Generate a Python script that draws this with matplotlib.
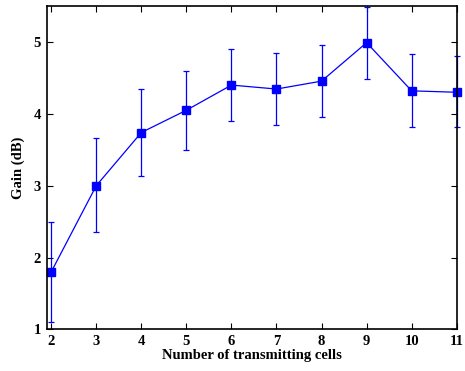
import matplotlib
matplotlib.use("Agg")
import matplotlib.pyplot as plt

cells = [2, 3, 4, 5, 6, 7, 8, 9, 10, 11]
gain = [1.80, 3.00, 3.74, 4.05, 4.40, 4.345, 4.455, 4.99, 4.32, 4.30]
err_low = [0.70, 0.65, 0.60, 0.55, 0.50, 0.50, 0.50, 0.51, 0.50, 0.49]
err_high = [0.70, 0.66, 0.60, 0.55, 0.50, 0.50, 0.50, 0.50, 0.51, 0.50]

plt.rcParams['font.family'] = ['Liberation Serif', 'DejaVu Serif']
plt.rcParams['font.weight'] = 'bold'

fig = plt.figure(figsize=(4.65, 3.71), dpi=100)
ax = fig.add_axes([0.1004, 0.1119, 0.8818, 0.8719])
cont = ax.errorbar(cells, gain, yerr=[err_low, err_high], color='#0000ff', ecolor='#0000ff',
                   marker='s', markersize=6, linewidth=0.9, elinewidth=0.9, capsize=2.5, capthick=0.9)
line, caps, bars = cont.lines
line.set_clip_on(False)
for c in caps:
    c.set_clip_on(False)
for b in bars:
    b.set_clip_on(False)
ax.set_xlim(1.9, 11.0)
ax.set_ylim(1, 5.5)
ax.set_xticks(cells)
ax.set_yticks([1, 2, 3, 4, 5])
ax.tick_params(direction='in', top=True, right=True, labelsize=10.5, length=4, width=0.8, pad=4)
for lab in ax.get_xticklabels() + ax.get_yticklabels():
    lab.set_fontweight('bold')
for s in ax.spines.values():
    s.set_linewidth(1.2)
ax.set_xlabel('Number of transmitting cells', fontsize=10.5, fontweight='bold', labelpad=1)
ax.set_ylabel('Gain (dB)', fontsize=10.5, fontweight='bold', labelpad=6)
fig.savefig('out.png', dpi=100)
